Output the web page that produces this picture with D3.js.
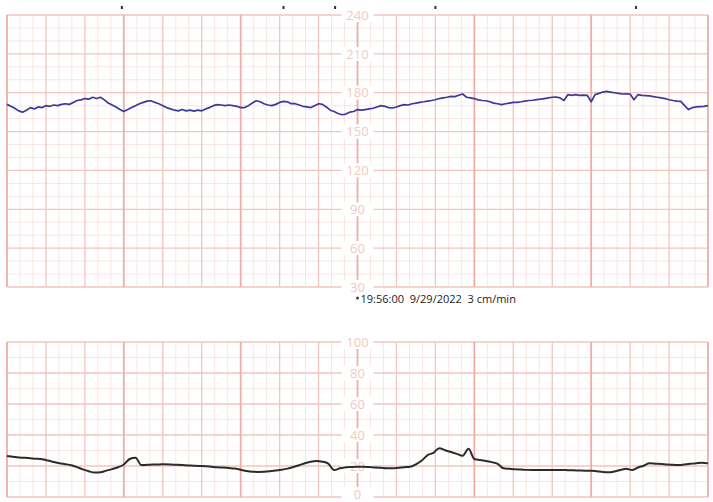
<!DOCTYPE html>
<html>
<head>
<meta charset="utf-8">
<script src="https://cdn.jsdelivr.net/npm/d3@7/dist/d3.min.js"></script>
<style>
html,body{margin:0;padding:0;background:#fff;}
svg{display:block;}
</style>
</head>
<body>
<svg id="chart" width="713" height="502"></svg>
<script>
// ---- data ----
const timeSpanSec = 360;           // 6 minutes at 3 cm/min
const fhrStepSec = 2;
const fhrValues = [
171,169.5,168,166,165,166.5,168.5,167.5,169,168.5,170,169.5,170.5,170,171,171.5,171,172.5,174,174.5,
175.5,175,176.5,175.5,176.5,174.5,172,170.5,169,167,165.5,167,168.5,170,171.5,172.5,173.5,173.8,172.5,171.5,
170,168.5,167.5,166.5,166,167,166,166.5,165.8,166.5,166,167.5,168.5,170,170.8,170.5,170,170.5,170,169.5,
168.5,168.5,170,172,173.8,173,171.5,170.5,170,171,172.5,173.3,173,171.5,171.5,170.5,169.5,169,168.5,170,
171.5,171,169,166.5,165.5,164,163,163.5,165,165.5,167,166.5,167,167.5,168,169,170,169.5,168.5,168.2,
169,170,170.8,170.5,171.5,172,172.6,173,173.5,174,174.6,175.5,176,176.5,177.2,177,178,179,176.5,176,
175.5,174.5,174,173.8,173,172,171.5,170.8,171.5,172,172.5,172.6,173,173.5,174,174.2,174.6,175,175.5,176,
176.5,176.7,176,174,178.5,178,178.5,178,178.2,178,173,178.5,179.5,180.5,181,180.5,180,179.5,179,179.2,
179,174.6,178.5,178,177.8,177.5,177,176.5,176,175.5,174.6,174,173.5,173.3,170,167,168.5,169,169.3,169.5,
170
];
const tocoStepSec = 3;
const tocoValues = [
26.5,26,25.5,25.3,25,24.7,24.3,23.5,22.6,21.8,21.2,20.5,19.3,17.8,16.6,15.8,16,17,18,19.2,
21,24.5,25.4,20.6,20.8,21,21,21.1,21,20.8,20.6,20.4,20.2,20,19.8,19.5,19.2,19,18.7,18.4,
17.6,16.8,16.3,16.2,16.3,16.6,17.1,17.6,18.3,19.3,20.5,21.8,22.8,23.2,22.8,21.5,17.4,18.5,19.2,19.4,
19.5,19.5,19.3,19,18.8,18.6,18.5,18.8,19.2,19.5,21,23.5,27,28.5,31.5,30.2,29,27.8,26.6,31.2,
24.5,23.8,23.2,22.5,21.4,18.5,18.2,17.9,17.7,17.5,17.4,17.4,17.4,17.4,17.4,17.4,17.3,17.2,17.1,17,
17,16.6,16.1,15.9,16.5,17.4,18.3,17.4,19,20.2,21.7,21.5,21.3,21,20.8,20.6,21,21.4,21.8,22.1,
21.7
];
const fhrTicks = [30,60,90,120,150,180,210,240];
const tocoTicks = [0,20,40,60,80,100];
const eventMarksSec = [59,142,168.5,220,323];
const stampText = "19:56:00  9/29/2022  3 cm/min";

// ---- layout ----
const svg = d3.select("#chart");
const x = d3.scaleLinear().domain([0, timeSpanSec]).range([7, 708]);
const yF = d3.scaleLinear().domain([30, 240]).range([287, 15]);
const yT = d3.scaleLinear().domain([0, 100]).range([497, 342]);
const axisSec = 180;

const minorCol = "#f9e6e3", majorCol = "#f3c5be", minuteCol = "#eeaea6";

function panel(y, ticks, minorStep, lo, hi) {
  const g = svg.append("g");
  const minorH = d3.range(lo, hi + 0.001, minorStep).filter(v => !ticks.includes(v));
  g.selectAll(".mh").data(minorH).join("line")
    .attr("x1", x(0)).attr("x2", x(timeSpanSec))
    .attr("y1", d => y(d)).attr("y2", d => y(d))
    .attr("stroke", minorCol).attr("stroke-width", 1);
  const minorV = d3.range(0, timeSpanSec + 0.01, 20/3).filter((d,i) => i % 3 !== 0);
  g.selectAll(".mv").data(minorV).join("line")
    .attr("x1", d => x(d)).attr("x2", d => x(d))
    .attr("y1", y(lo)).attr("y2", y(hi))
    .attr("stroke", minorCol).attr("stroke-width", 1);
  g.selectAll(".Mh").data(ticks).join("line")
    .attr("x1", x(0)).attr("x2", x(timeSpanSec))
    .attr("y1", d => y(d)).attr("y2", d => y(d))
    .attr("stroke", majorCol).attr("stroke-width", 1.3);
  const majorV = d3.range(0, timeSpanSec + 0.01, 20);
  g.selectAll(".Mv").data(majorV).join("line")
    .attr("x1", d => x(d)).attr("x2", d => x(d))
    .attr("y1", y(lo)).attr("y2", y(hi))
    .attr("stroke", d => (d % 60 === 0) ? minuteCol : majorCol)
    .attr("stroke-width", d => (d % 60 === 0) ? 1.8 : 1.3);
  const lab = g.selectAll(".lab").data(ticks).join("g")
    .attr("transform", d => `translate(${x(axisSec)},${Math.min(y(d), 494)})`);
  lab.append("rect").attr("x", -16).attr("y", -7).attr("width", 32).attr("height", 14).attr("fill", "#fff");
  lab.append("text").text(d => d)
    .attr("text-anchor", "middle").attr("dy", "0.36em")
    .attr("font-family", "Open Sans, sans-serif").attr("font-size", 13)
    .attr("fill", "#efcac4");
  return g;
}

panel(yF, fhrTicks, 10, 30, 240);
panel(yT, tocoTicks, 10, 0, 100);

// FHR trace
const fhrLine = d3.line().x((d,i) => x(i * fhrStepSec)).y(d => yF(d)).curve(d3.curveLinear);
svg.append("path").datum(fhrValues).attr("d", fhrLine)
  .attr("fill", "none").attr("stroke", "#3b3a9c").attr("stroke-width", 1.7)
  .attr("stroke-linejoin", "round");

// TOCO trace
const tocoLine = d3.line().x((d,i) => x(i * tocoStepSec)).y(d => yT(d)).curve(d3.curveMonotoneX);
svg.append("path").datum(tocoValues).attr("d", tocoLine)
  .attr("fill", "none").attr("stroke", "#2b2b2b").attr("stroke-width", 2)
  .attr("stroke-linejoin", "round");

// event marks at top
svg.selectAll(".ev").data(eventMarksSec).join("rect")
  .attr("x", d => x(d) - 1).attr("y", 6).attr("width", 2).attr("height", 3)
  .attr("fill", "#333");

// time stamp
svg.append("circle").attr("cx", x(axisSec)).attr("cy", 298).attr("r", 1.5).attr("fill", "#444");
svg.append("text").attr("x", x(axisSec) + 3).attr("y", 302.5)
  .attr("font-family", "Open Sans, sans-serif").attr("font-size", 11)
  .attr("fill", "#222").style("white-space", "pre")
  .text(stampText);
</script>
</body>
</html>
